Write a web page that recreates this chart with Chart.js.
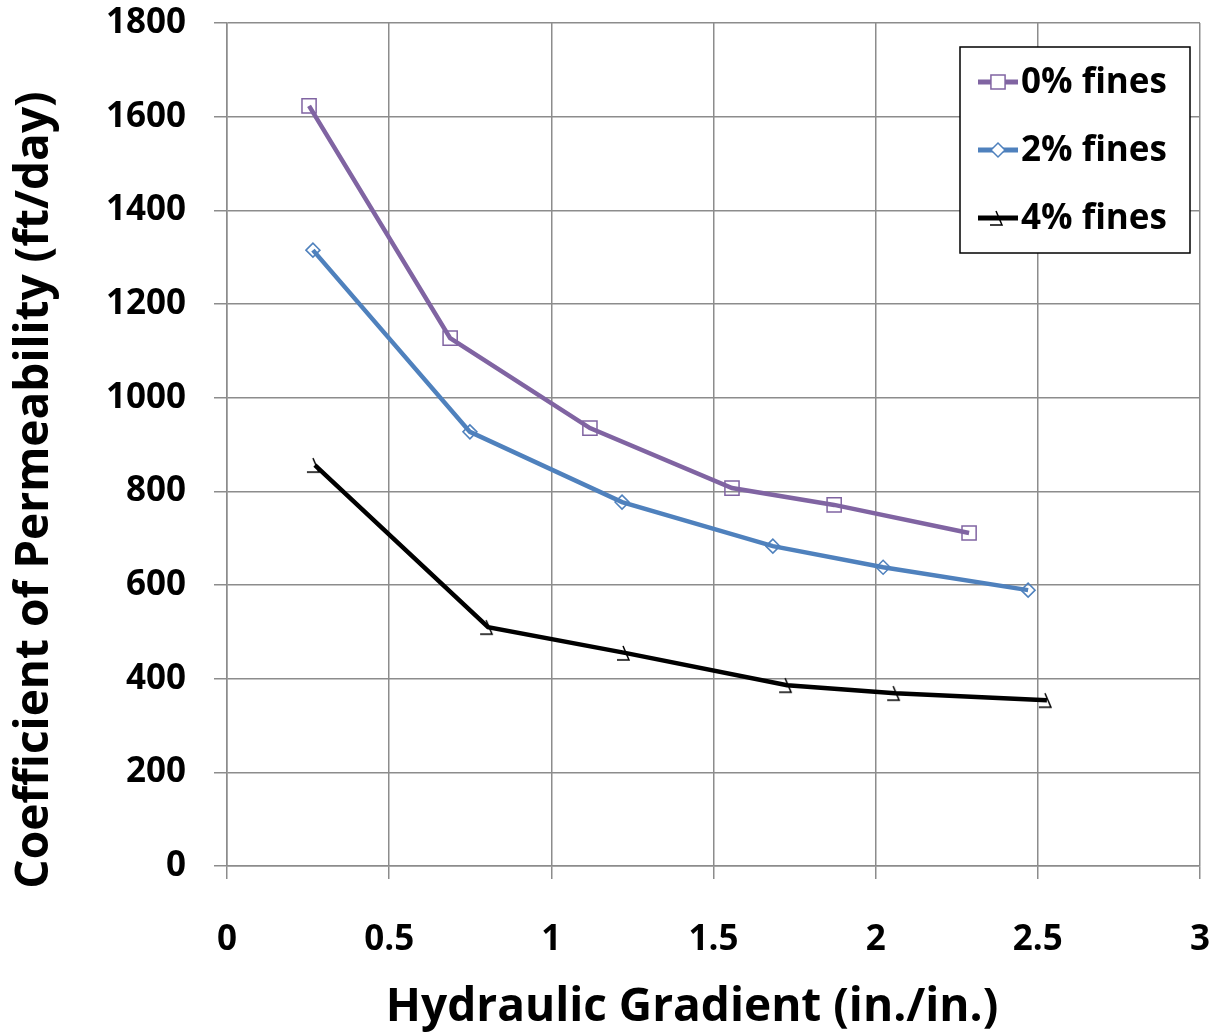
<!DOCTYPE html>
<html>
<head>
<meta charset="utf-8">
<script src="https://cdn.jsdelivr.net/npm/chart.js@4/dist/chart.umd.min.js"></script>
<style>
  html, body { margin: 0; padding: 0; background: #fff; }
  #wrap { width: 1225px; height: 1036px; }
</style>
</head>
<body>
<div id="wrap"><canvas id="myChart" width="1225" height="1036"></canvas></div>
<script>
// gradients (in./in.) and permeability (ft/day) for each fines content
var x0 = [0.253, 0.688, 1.119, 1.557, 1.872, 2.288];
var k0 = [1623, 1127, 935, 807, 771, 711];
var x2 = [0.265, 0.749, 1.218, 1.683, 2.023, 2.470];
var k2 = [1315, 927, 777, 683, 638, 589];
var x4 = [0.271, 0.805, 1.227, 1.727, 2.060, 2.528];
var k4 = [856, 510, 455, 386, 369, 354];
var seriesNames = ['0% fines', '2% fines', '4% fines'];
var xTitle = 'Hydraulic Gradient (in./in.)';
var yTitle = 'Coefficient of Permeability (ft/day)';

function pts(xs, ys) {
    return xs.map(function (x, i) { return { x: x, y: ys[i] }; });
}

var FONT = "'Open Sans', 'Liberation Sans', sans-serif";
var GRID = '#8c8c8c';

// the odd hook-shaped marker used for 4% fines
var hook = document.createElement('canvas');
hook.width = 24;
hook.height = 24;
(function () {
    var h = hook.getContext('2d');
    h.strokeStyle = '#000';
    h.lineWidth = 1.5;
    h.beginPath();
    h.moveTo(10, 5);
    h.lineTo(16, 19);
    h.lineTo(4, 19);
    h.stroke();
})();

// axis titles sit a bit off-centre in the original, so draw them here
var axisTitles = {
    id: 'axisTitles',
    afterDraw: function (chart) {
        var c = chart.ctx;
        c.save();
        c.fillStyle = '#000';
        c.font = 'bold 46px ' + FONT;
        c.textAlign = 'center';
        c.textBaseline = 'middle';
        c.fillText(xTitle, 692, 1008);
        c.translate(35, 490);
        c.rotate(-Math.PI / 2);
        c.fillText(yTitle, 0, 0);
        c.restore();
    }
};

// legend drawn inside the plot, top right, like the original
var boxLegend = {
    id: 'boxLegend',
    afterDraw: function (chart) {
        var c = chart.ctx;
        var left = 960, top = 47, w = 230, h = 206;
        c.save();
        c.fillStyle = '#fff';
        c.fillRect(left, top, w, h);
        c.strokeStyle = '#000';
        c.lineWidth = 1.5;
        c.strokeRect(left, top, w, h);
        c.font = 'bold 35px ' + FONT;
        c.textBaseline = 'middle';
        chart.data.datasets.forEach(function (ds, i) {
            var y = 82 + i * 68;
            c.strokeStyle = ds.borderColor;
            c.lineWidth = 5;
            c.beginPath();
            c.moveTo(978, y);
            c.lineTo(1018, y);
            c.stroke();
            c.fillStyle = '#fff';
            c.strokeStyle = ds.pointBorderColor;
            c.lineWidth = 1.5;
            Chart.helpers.drawPoint(c, {
                pointStyle: ds.pointStyle,
                radius: ds.pointRadius,
                borderWidth: 1.5,
                rotation: 0
            }, 998, y);
            c.fillStyle = '#000';
            c.fillText(ds.label, 1021, y + 1);
        });
        c.restore();
    }
};

function plainTick(v) { return String(v); }

var ctx = document.getElementById('myChart').getContext('2d');
var myChart = new Chart(ctx, {
    type: 'line',
    data: {
        datasets: [
            {
                label: seriesNames[0],
                data: pts(x0, k0),
                borderColor: '#8064A2',
                backgroundColor: '#fff',
                pointBorderColor: '#8064A2',
                pointBackgroundColor: 'rgba(255,255,255,0)',
                borderWidth: 4.5,
                pointStyle: 'rect',
                pointRadius: 10,
                pointBorderWidth: 1.5
            },
            {
                label: seriesNames[1],
                data: pts(x2, k2),
                borderColor: '#4F81BD',
                backgroundColor: '#fff',
                pointBorderColor: '#4F81BD',
                pointBackgroundColor: 'rgba(255,255,255,0)',
                borderWidth: 4.5,
                pointStyle: 'rectRot',
                pointRadius: 7,
                pointBorderWidth: 1.5
            },
            {
                label: seriesNames[2],
                data: pts(x4, k4),
                borderColor: '#000000',
                backgroundColor: '#fff',
                pointBorderColor: '#000000',
                borderWidth: 4.5,
                pointStyle: hook,
                pointRadius: 10,
                pointBorderWidth: 1.5
            }
        ]
    },
    options: {
        responsive: false,
        animation: false,
        layout: { padding: { top: 23, right: 25, left: 0, bottom: 0 } },
        plugins: {
            legend: { display: false },
            tooltip: { enabled: false }
        },
        scales: {
            x: {
                type: 'linear',
                min: 0,
                max: 3,
                ticks: {
                    stepSize: 0.5,
                    color: '#000',
                    padding: 40,
                    callback: plainTick,
                    font: { family: FONT, size: 35, weight: 'bold' }
                },
                grid: { color: GRID, lineWidth: 1.5, tickLength: 13, tickColor: GRID },
                border: { color: GRID, width: 1.5 },
                afterFit: function (s) {
                    s.height = 170;
                    s.paddingLeft = 0;
                    s.paddingRight = 0;
                }
            },
            y: {
                min: 0,
                max: 1800,
                ticks: {
                    stepSize: 200,
                    color: '#000',
                    padding: 28,
                    callback: plainTick,
                    font: { family: FONT, size: 35, weight: 'bold' }
                },
                grid: { color: GRID, lineWidth: 1.5, tickLength: 13, tickColor: GRID },
                border: { color: GRID, width: 1.5 },
                afterFit: function (s) {
                    s.width = 227;
                    s.paddingTop = 0;
                    s.paddingBottom = 0;
                }
            }
        }
    },
    plugins: [boxLegend, axisTitles]
});
</script>
</body>
</html>
